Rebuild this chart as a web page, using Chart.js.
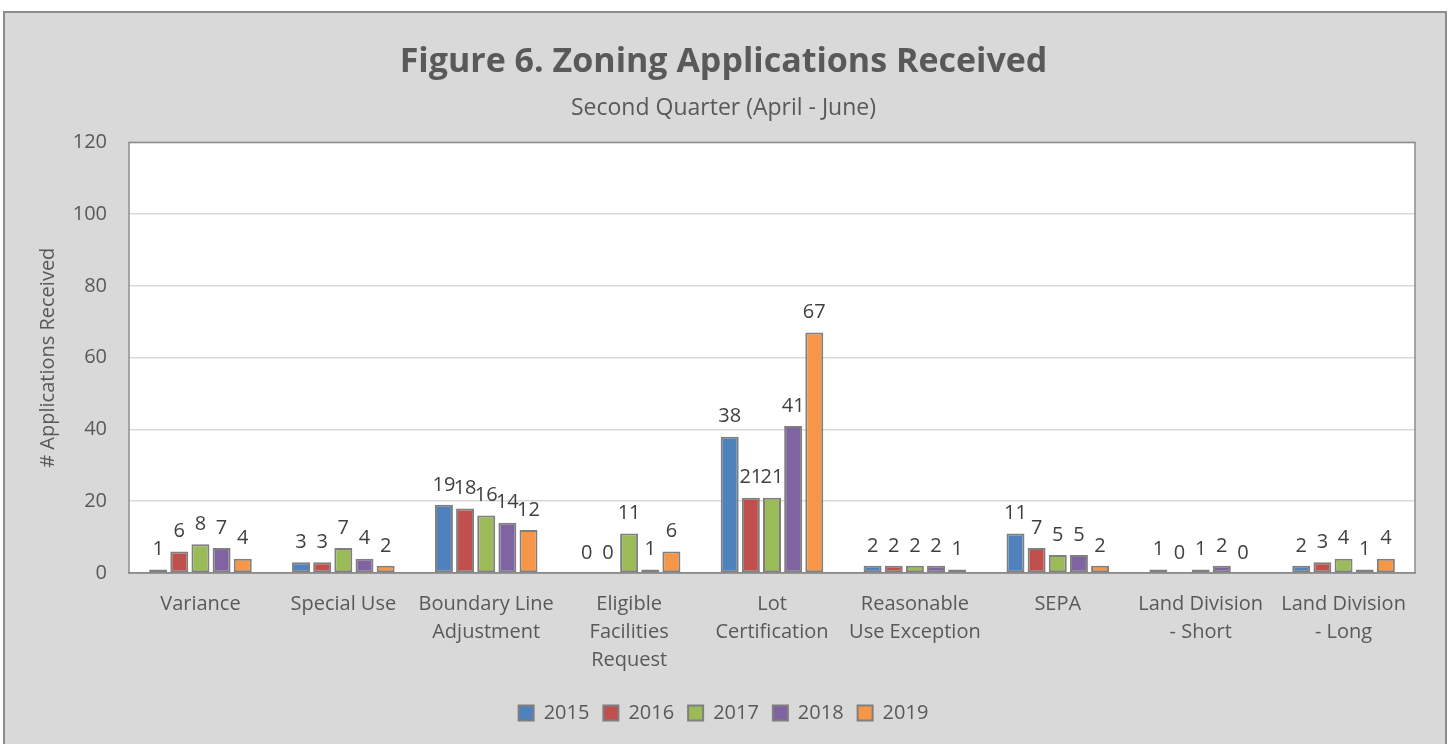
<!DOCTYPE html>
<html>
<head>
<meta charset="utf-8">
<script src="https://cdn.jsdelivr.net/npm/chart.js@4/dist/chart.umd.min.js"></script>
<style>
  html, body { margin: 0; padding: 0; background: #fff; }
  #wrap { width: 1450px; height: 744px; }
</style>
</head>
<body>
<div id="wrap"><canvas id="myChart" width="1450" height="744"></canvas></div>
<script>
// ================= Data =================
const categories = [
  'Variance',
  'Special Use',
  ['Boundary Line', 'Adjustment'],
  ['Eligible', 'Facilities', 'Request'],
  ['Lot', 'Certification'],
  ['Reasonable', 'Use Exception'],
  'SEPA',
  ['Land Division', '- Short'],
  ['Land Division', '- Long']
];
const years = ['2015', '2016', '2017', '2018', '2019'];
const values2015 = [1, 3, 19, 0, 38, 2, 11, 1, 2];
const values2016 = [6, 3, 18, 0, 21, 2, 7, 0, 3];
const values2017 = [8, 7, 16, 11, 21, 2, 5, 1, 4];
const values2018 = [7, 4, 14, 1, 41, 2, 5, 2, 1];
const values2019 = [4, 2, 12, 6, 67, 1, 2, 0, 4];
const yTicks = [0, 20, 40, 60, 80, 100, 120];

const colors = ['#4f81bd', '#c0504d', '#9bbb59', '#8064a2', '#f79646'];
const FONT = "'Open Sans', 'Noto Sans', sans-serif";

// ================= Plugins =================
const frame = {
  id: 'frame',
  beforeDraw(chart) {
    const c = chart.ctx;
    c.save();
    c.fillStyle = '#ffffff';
    c.fillRect(0, 0, chart.width, chart.height);
    c.fillStyle = '#d9d9d9';
    c.fillRect(4, 12, chart.width - 8, chart.height - 12);
    c.strokeStyle = '#8c8c8c';
    c.lineWidth = 2;
    c.strokeRect(4, 12, chart.width - 8, chart.height + 10);
    const a = chart.chartArea;
    c.fillStyle = '#ffffff';
    c.fillRect(a.left, a.top, a.right - a.left, a.bottom - a.top);
    c.restore();
  },
  afterDatasetsDraw(chart) {
    const a = chart.chartArea;
    const c = chart.ctx;
    c.save();
    c.strokeStyle = '#8c8c8c';
    c.lineWidth = 1.5;
    c.strokeRect(a.left, a.top, a.right - a.left, a.bottom - a.top);
    c.restore();
  }
};

const valueLabels = {
  id: 'valueLabels',
  afterDatasetsDraw(chart) {
    const c = chart.ctx;
    c.save();
    c.font = '20px ' + FONT;
    c.fillStyle = '#404040';
    c.textAlign = 'center';
    c.textBaseline = 'bottom';
    chart.data.datasets.forEach((ds, i) => {
      chart.getDatasetMeta(i).data.forEach((bar, j) => {
        c.fillText(String(ds.data[j]), bar.x, bar.y - 10);
      });
    });
    c.restore();
  }
};

// ================= Chart =================
const ctx = document.getElementById('myChart');
const series = [values2015, values2016, values2017, values2018, values2019];

new Chart(ctx, {
  type: 'bar',
  data: {
    labels: categories,
    datasets: years.map((y, i) => ({
      label: y,
      data: series[i],
      backgroundColor: colors[i],
      borderColor: '#7f7f7f',
      borderWidth: 2,
      borderSkipped: false,
      categoryPercentage: 0.74,
      barPercentage: 0.85
    }))
  },
  options: {
    responsive: false,
    animation: false,
    layout: { padding: { top: 32, left: 32, right: 35, bottom: 11 } },
    plugins: {
      title: {
        display: true,
        text: 'Figure 6. Zoning Applications Received',
        color: '#595959',
        font: { family: FONT, size: 34, weight: 'bold' },
        padding: { top: 10, bottom: 6 }
      },
      subtitle: {
        display: true,
        text: 'Second Quarter (April - June)',
        color: '#595959',
        font: { family: FONT, size: 23 },
        padding: { top: 6, bottom: 20 }
      },
      legend: {
        position: 'bottom',
        labels: {
          color: '#595959',
          font: { family: FONT, size: 20 },
          boxWidth: 15,
          boxHeight: 15,
          padding: 14
        }
      },
      tooltip: { enabled: false }
    },
    scales: {
      x: {
        grid: { display: false },
        border: { color: '#8c8c8c', width: 1.5 },
        ticks: {
          color: '#595959',
          font: { family: FONT, size: 20, lineHeight: 1.4 },
          maxRotation: 0,
          autoSkip: false,
          padding: 9
        },
        afterFit(scale) { scale.height = 116; }
      },
      y: {
        min: 0,
        max: 120,
        afterBuildTicks(scale) { scale.ticks = yTicks.map(v => ({ value: v })); },
        grid: { color: '#d9d9d9', lineWidth: 1.5, drawTicks: false },
        border: { display: false },
        ticks: {
          color: '#595959',
          font: { family: FONT, size: 20 },
          padding: 22
        },
        title: {
          display: true,
          text: '# Applications Received',
          color: '#595959',
          font: { family: FONT, size: 20 }
        },
        afterFit(scale) { scale.width = 97; }
      }
    }
  },
  plugins: [frame, valueLabels]
});
</script>
</body>
</html>
